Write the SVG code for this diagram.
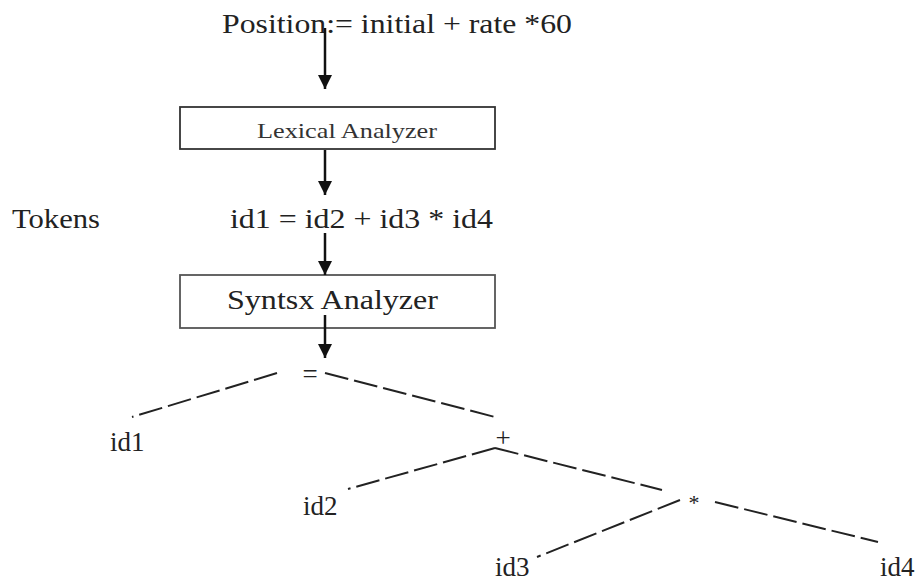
<svg xmlns="http://www.w3.org/2000/svg" width="922" height="581" viewBox="0 0 922 581">
<defs>
<marker id="ah" markerUnits="userSpaceOnUse" markerWidth="14" markerHeight="14" refX="14" refY="7" orient="auto">
<path d="M0,0 L14,7 L0,14 z" fill="#111"/>
</marker>
<style>
text{font-family:"Liberation Serif","Times New Roman",serif;fill:#222}
.arrow{stroke:#111;stroke-width:2.5;fill:none}
.box{fill:#fff;stroke:#333;stroke-width:1.8}
.edge{stroke:#222;stroke-width:2;stroke-dasharray:24 6;fill:none}
.t{font-size:27px}
</style>
</defs>
<rect width="922" height="581" fill="#fff"/>
<g id="source">
<text x="222" y="33" font-size="27" textLength="350" lengthAdjust="spacingAndGlyphs">Position:= initial + rate *60</text>
</g>
<g id="lexical">
<rect class="box" x="180" y="107" width="315" height="42"/>
<text x="257" y="138" font-size="22" textLength="180" lengthAdjust="spacingAndGlyphs" style="fill:#333">Lexical Analyzer</text>
</g>
<g id="tokens-label">
<text x="12" y="228" font-size="28" textLength="88" lengthAdjust="spacingAndGlyphs">Tokens</text>
</g>
<g id="tokens">
<text x="230" y="228" font-size="28" textLength="263" lengthAdjust="spacingAndGlyphs">id1 = id2 + id3 * id4</text>
</g>
<g id="syntax">
<rect class="box" x="180" y="275" width="315" height="53" style="stroke:#555"/>
<text x="227" y="309" font-size="28" textLength="211" lengthAdjust="spacingAndGlyphs">Syntsx Analyzer</text>
</g>
<g id="n-eq"><text class="t" x="310" y="383" text-anchor="middle">=</text></g>
<g id="n-id1"><text class="t" x="110" y="451">id1</text></g>
<g id="n-plus"><text class="t" x="503" y="447" text-anchor="middle">+</text></g>
<g id="n-id2"><text class="t" x="303" y="515">id2</text></g>
<g id="n-star"><text x="694" y="510" font-size="22" text-anchor="middle">*</text></g>
<g id="n-id3"><text class="t" x="495" y="576">id3</text></g>
<g id="n-id4"><text class="t" x="880" y="576">id4</text></g>
<g id="connectors">
<line class="arrow" x1="325" y1="28" x2="325" y2="89" marker-end="url(#ah)"/>
<line class="arrow" x1="325" y1="150" x2="325" y2="195" marker-end="url(#ah)"/>
<line class="arrow" x1="325" y1="233" x2="325" y2="275" marker-end="url(#ah)"/>
<line class="arrow" x1="325" y1="315" x2="325" y2="358" marker-end="url(#ah)"/>
<line class="edge" x1="277" y1="373" x2="132" y2="417"/>
<line class="edge" x1="325" y1="373" x2="495" y2="417"/>
<line class="edge" x1="495" y1="448" x2="348" y2="489"/>
<line class="edge" x1="495" y1="448" x2="662" y2="490"/>
<line class="edge" x1="680" y1="500" x2="537" y2="557"/>
<line class="edge" x1="715" y1="502" x2="878" y2="542"/>
</g>
</svg>
